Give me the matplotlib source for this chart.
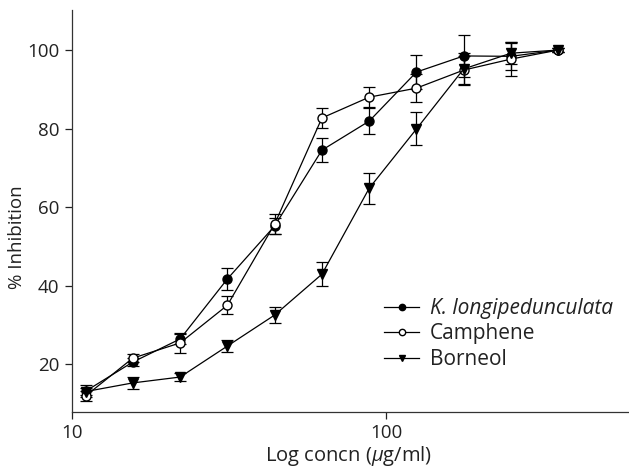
import numpy as np
import matplotlib
matplotlib.use("Agg")
import matplotlib.pyplot as plt

plt.rcParams['font.family'] = ['Open Sans', 'DejaVu Sans']
plt.rcParams['mathtext.fontset'] = 'custom'
plt.rcParams['mathtext.rm'] = 'Open Sans'
plt.rcParams['mathtext.it'] = 'Open Sans:italic'

conc = [11.05, 15.6, 22.1, 31.25, 44.2, 62.5, 88.4, 125, 176.8, 250, 353.6]

kl = [13.1, 20.5, 26.4, 41.7, 55.2, 74.5, 81.9, 94.4, 98.5, 98.4, 100]
kl_err = [1.5, 1.0, 1.2, 2.8, 2.0, 3.0, 3.3, 4.3, 5.3, 3.5, 0.6]

camph = [11.9, 21.5, 25.4, 35.0, 55.7, 82.7, 88.0, 90.3, 94.9, 97.7, 100]
camph_err = [1.2, 1.0, 2.5, 2.3, 2.5, 2.5, 2.5, 3.6, 3.5, 4.3, 0.6]

born = [13.0, 15.2, 16.7, 24.6, 32.5, 42.9, 64.8, 79.9, 95.2, 99.2, 100]
born_err = [1.0, 1.5, 1.0, 1.5, 2.0, 3.0, 4.0, 4.2, 4.0, 2.8, 0.6]

fig = plt.figure(figsize=(6.29, 4.68), dpi=100)
ax = fig.add_axes([0.1145, 0.1197, 0.8855, 0.8589])

common = dict(color='black', lw=0.9, elinewidth=0.9, capsize=4.5, capthick=0.9, ms=6.5)
ax.errorbar(conc, kl, yerr=kl_err, marker='o', mfc='black', mec='black',
            label='K. longipedunculata', **common)
ax.errorbar(conc, camph, yerr=camph_err, marker='o', mfc='white', mec='black',
            label='Camphene', **common)
ax.errorbar(conc, born, yerr=born_err, marker='v', mfc='black', mec='black',
            label='Borneol', **common)

ax.set_xscale('log')
ax.set_xlim(10, 594)
ax.set_ylim(7.8, 110.2)
ax.set_xticks([10, 100])
ax.set_xticklabels(['10', '100'])
ax.xaxis.set_minor_locator(matplotlib.ticker.NullLocator())
ax.set_yticks([20, 40, 60, 80, 100])
ax.tick_params(labelsize=13.5, length=5, width=0.9, direction='out', colors='#222222')
ax.tick_params(axis='y', pad=4)

for s in ['top', 'right']:
    ax.spines[s].set_visible(False)
for s in ['left', 'bottom']:
    ax.spines[s].set_linewidth(0.9)
    ax.spines[s].set_color('#333333')

ax.set_ylabel('% Inhibition', fontsize=13.5, color='#222222')
ax.yaxis.set_label_coords(-0.083, 0.435)
ax.set_xlabel(r'Log concn ($\mathit{\mu}$g/ml)', fontsize=14.5, color='#222222')
ax.xaxis.set_label_coords(0.496, -0.08)

handles, labels = ax.get_legend_handles_labels()
handles = [h[0] for h in handles]
leg = ax.legend(handles, labels, loc='center left', bbox_to_anchor=(0.56, 0.194),
                frameon=False, fontsize=15, handlelength=1.7, handletextpad=0.5,
                markerscale=0.7, labelspacing=0.22, borderaxespad=0, borderpad=0)
leg.get_texts()[0].set_style('italic')
for t in leg.get_texts():
    t.set_color('#222222')

fig.savefig('out.png', dpi=100)
